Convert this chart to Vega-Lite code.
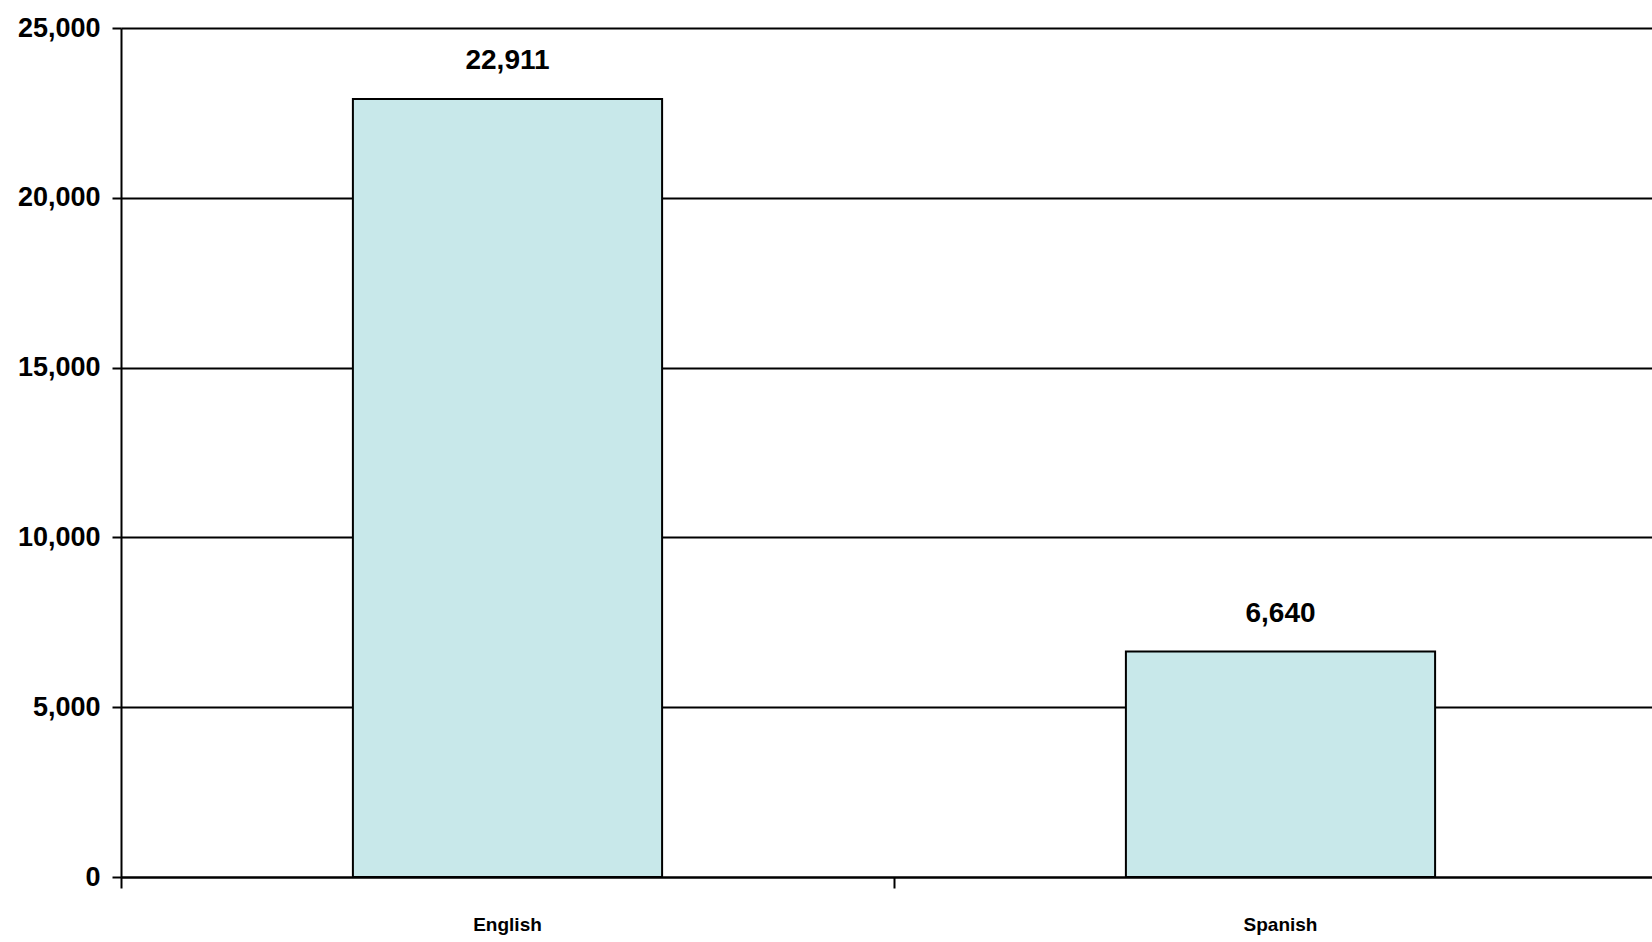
{
  "$schema": "https://vega.github.io/schema/vega-lite/v6.json",
  "width": 1546,
  "height": 849,
  "autosize": {"type": "none"},
  "padding": {"left": 121, "top": 28, "right": 0, "bottom": 65},
  "background": "white",
  "config": {"view": {"stroke": null}, "font": "Liberation Sans"},
  "data": {"values": [
    {"language": "English", "speakers": 22911},
    {"language": "Spanish", "speakers": 6640}
  ]},
  "encoding": {
    "y": {"field": "speakers", "type": "quantitative",
      "scale": {"domain": [0, 25000], "nice": false},
      "axis": {"title": null, "values": [0, 5000, 10000, 15000, 20000, 25000], "format": ",.0f",
        "domainColor": "black", "domainWidth": 2, "tickColor": "black", "tickWidth": 2, "tickSize": 9,
        "labelFont": "Liberation Sans", "labelFontSize": 27, "labelFontWeight": "bold", "labelColor": "black",
        "labelPadding": 12, "grid": true, "gridColor": "black", "gridWidth": 2, "gridOpacity": 1}}
  },
  "layer": [
    {
      "mark": {"type": "bar", "fill": "#c8e8ea", "stroke": "black", "strokeWidth": 2},
      "encoding": {
        "x": {"field": "language", "type": "nominal", "sort": null,
          "scale": {"paddingInner": 0.6, "paddingOuter": 0.3},
          "axis": {"title": null, "ticks": false, "domain": true, "domainColor": "black", "domainWidth": 2,
            "labelAngle": 0, "labelFont": "Liberation Sans", "labelFontSize": 19, "labelFontWeight": "bold",
            "labelColor": "black", "labelPadding": 38, "grid": false}}
      }
    },
    {
      "mark": {"type": "text", "dy": -30, "baseline": "alphabetic", "font": "Liberation Sans",
        "fontSize": 28, "fontWeight": "bold", "color": "black"},
      "encoding": {
        "x": {"field": "language", "type": "nominal", "sort": null,
          "scale": {"paddingInner": 0.6, "paddingOuter": 0.3},
          "axis": {"title": null, "orient": "bottom", "labels": false, "domain": false, "ticks": true,
            "bandPosition": -0.75, "tickColor": "black", "tickWidth": 2, "tickSize": 11, "grid": false}},
        "text": {"field": "speakers", "type": "quantitative", "format": ",.0f"}
      }
    }
  ],
  "resolve": {"axis": {"x": "independent"}}
}
